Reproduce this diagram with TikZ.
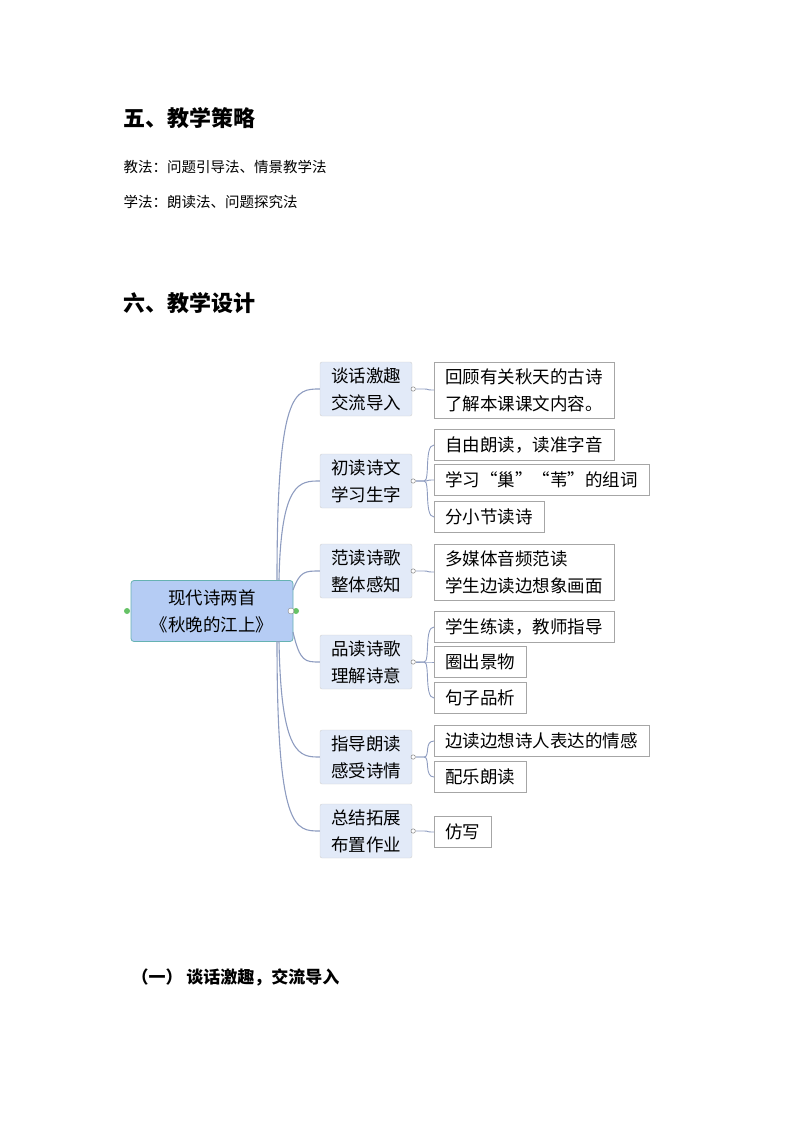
\documentclass[tikz,border=0pt]{standalone}
\usepackage{fontspec}
\setmainfont{Noto Sans CJK SC}
\definecolor{cnc}{HTML}{8E9CC0}
\definecolor{brf}{HTML}{E2EAF8}
\definecolor{rtf}{HTML}{B5CCF4}
\begin{document}
\begin{tikzpicture}[x=1pt,y=-1pt,
  br/.style={draw=black!18,fill=brf,rounded corners=2pt,minimum width=92pt,minimum height=54pt,align=center,font=\fontsize{17.5}{27}\selectfont,inner sep=0pt},
  lf/.style={draw=black!35,fill=white,anchor=west,minimum height=31pt,align=left,font=\fontsize{17.5}{27}\selectfont,inner xsep=11pt,inner ysep=0pt},
  cn/.style={draw=cnc,line width=1.1pt}]
\useasboundingbox (0,0) rectangle (794,1123);
\node[anchor=west,font=\fontsize{22}{26}\selectfont\bfseries] (h1) at (120,118) {五、教学策略};
\node[anchor=west,font=\fontsize{14.5}{18}\selectfont] (t1) at (120,167) {教法：问题引导法、情景教学法};
\node[anchor=west,font=\fontsize{14.5}{18}\selectfont] (t2) at (120,202) {学法：朗读法、问题探究法};
\node[anchor=west,font=\fontsize{22}{26}\selectfont\bfseries] (h2) at (120,303) {六、教学设计};
\node[anchor=west,font=\fontsize{17}{20}\selectfont\bfseries] (h3) at (128,977) {（一） 谈话激趣，交流导入};

\node[draw=teal!60,fill=rtf,rounded corners=3pt,line width=0.8pt,minimum width=162pt,minimum height=61pt,align=center,font=\fontsize{17.5}{27}\selectfont,inner sep=0pt] (root) at (212,611) {现代诗两首\\《秋晚的江上》};
\fill[green!60!black!60] (127,611) circle (3pt) (296,611) circle (3pt);
\draw[gray,fill=white] (291,611) circle (3pt);

\foreach \n/\y/\t in {b1/389/{谈话激趣\\交流导入},b2/481/{初读诗文\\学习生字},b3/571/{范读诗歌\\整体感知},b4/662/{品读诗歌\\理解诗意},b5/757/{指导朗读\\感受诗情},b6/831/{总结拓展\\布置作业}}
  \node[br] (\n) at (366,\y) {\t};

\draw[cn] (277,580) .. controls (277,389) and (295,389) .. (b1.west);
\draw[cn] (279,580) .. controls (281,481) and (300,481) .. (b2.west);
\draw[cn] (293,590) .. controls (300,571) and (305,571) .. (b3.west);
\draw[cn] (293,632) .. controls (300,662) and (305,662) .. (b4.west);
\draw[cn] (279,641) .. controls (281,757) and (300,757) .. (b5.west);
\draw[cn] (277,641) .. controls (277,831) and (295,831) .. (b6.west);

\node[lf,minimum height=56pt] (l1) at (434,390) {回顾有关秋天的古诗\\了解本课课文内容。};
\node[lf] (l21) at (434,445) {自由朗读，读准字音};
\node[lf] (l22) at (434,480) {学习“巢”“苇”的组词};
\node[lf] (l23) at (434,517) {分小节读诗};
\node[lf,minimum height=56pt] (l3) at (434,572) {多媒体音频范读\\学生边读边想象画面};
\node[lf] (l41) at (434,627) {学生练读，教师指导};
\node[lf] (l42) at (434,662) {圈出景物};
\node[lf] (l43) at (434,698) {句子品析};
\node[lf] (l51) at (434,741) {边读边想诗人表达的情感};
\node[lf] (l52) at (434,777) {配乐朗读};
\node[lf] (l6) at (434,832) {仿写};

\foreach \b/\l in {b1/l1,b2/l21,b2/l22,b2/l23,b3/l3,b4/l41,b4/l42,b4/l43,b5/l51,b5/l52,b6/l6}
  \draw[cn,line width=0.9pt] ([xshift=4pt]\b.east) -- ++(8pt,0) .. controls ++(6pt,0) and ([xshift=-10pt]\l.west) .. (\l.west);
\foreach \b in {b1,b2,b3,b4,b5,b6}
  \draw[gray,fill=white,line width=0.5pt] ([xshift=1pt]\b.east) circle (2.2pt);
\end{tikzpicture}
\end{document}
